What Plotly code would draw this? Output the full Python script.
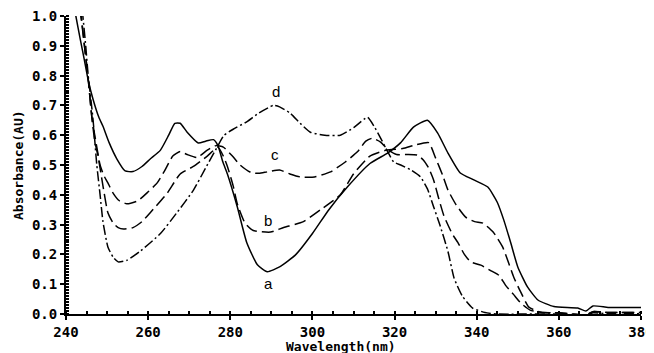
import plotly.graph_objects as go

# ---- data ----
wl_a = [241.5, 242.4, 243.5, 244.5, 245.4, 246.6, 248, 249, 250.5, 252.4, 254.4, 256.3, 258.5,
        260.5, 263, 265, 266.5, 267.8, 269.5, 272.2, 274, 275.9, 277, 278.2, 279.3, 281.7, 284,
        286.6, 289, 292, 296, 300, 304, 308.5, 314, 318.3, 321.5, 324.6, 328, 330.5, 333, 336,
        339.3, 342.7, 345, 346.6, 348.3, 350, 352.4, 354.9, 358.8, 364.6, 366.6, 368.3, 372, 376, 380]
abs_a = [1.08, 1.0, 0.92, 0.85, 0.785, 0.72, 0.66, 0.63, 0.575, 0.52, 0.48, 0.478, 0.495,
         0.52, 0.55, 0.6, 0.64, 0.64, 0.61, 0.574, 0.58, 0.585, 0.565, 0.51, 0.47, 0.36, 0.24,
         0.165, 0.142, 0.158, 0.2, 0.27, 0.35, 0.426, 0.505, 0.54, 0.575, 0.627, 0.65, 0.607, 0.54, 0.473,
         0.45, 0.426, 0.375, 0.315, 0.238, 0.158, 0.09, 0.047, 0.025, 0.02, 0.01, 0.027, 0.022, 0.022, 0.022]

wl_b = [242.5, 243.6, 244.5, 245.4, 246.3, 247, 247.8, 249, 250.2, 251.5, 252.7, 254, 256.3, 258.5,
        260.5, 264.6, 267.8, 271, 274.4, 277, 278.3, 279.3, 280.7, 281.7, 283.6, 285.6, 289.8, 293,
        297.8, 302, 306.8, 310, 314, 318, 322, 325, 328.3, 330, 331.7, 333, 335, 337.3, 339.5, 341.5,
        344, 346.3, 347.8, 349, 350.7, 352.7, 355.6, 360, 366.6, 368.3, 372, 380]
abs_b = [1.08, 1.0, 0.9, 0.79, 0.66, 0.58, 0.53, 0.43, 0.34, 0.305, 0.29, 0.285, 0.29, 0.31,
         0.34, 0.405, 0.47, 0.495, 0.53, 0.56, 0.53, 0.495, 0.43, 0.37, 0.305, 0.28, 0.275, 0.29,
         0.31, 0.35, 0.40, 0.47, 0.53, 0.55, 0.555, 0.567, 0.575, 0.523, 0.466, 0.416, 0.366, 0.325, 0.31, 0.305,
         0.275, 0.225, 0.17, 0.124, 0.074, 0.023, 0.006, 0.004, -0.003, 0.008, 0.005, 0.005]

wl_c = [242.8, 243.7, 244.5, 245.4, 246.3, 247.5, 248.3, 249.2, 250.2, 251.5, 253, 254.8, 257.5, 260,
        262.2, 264, 266, 267.8, 269.5, 271.9, 274.4, 276.5, 278.3, 280.5, 282.4, 285, 287, 289, 292,
        294.5, 297, 300.5, 304.4, 308, 311, 313, 314.6, 316.6, 318.5, 320.5, 323, 325.6, 327, 328.3,
        329.5, 330.7, 332, 334, 335.4, 337, 338.5, 341, 343.5, 345.4, 347, 349, 350.7, 353, 356, 360,
        366.6, 368.3, 372, 380]
abs_c = [1.08, 1.0, 0.9, 0.79, 0.66, 0.56, 0.5, 0.465, 0.44, 0.405, 0.38, 0.37, 0.38, 0.41,
         0.44, 0.48, 0.53, 0.545, 0.535, 0.525, 0.55, 0.565, 0.56, 0.53, 0.5, 0.475, 0.472, 0.477, 0.483,
         0.47, 0.46, 0.46, 0.477, 0.51, 0.545, 0.58, 0.59, 0.577, 0.55, 0.535, 0.535, 0.533, 0.517, 0.49,
         0.45, 0.39, 0.33, 0.27, 0.24, 0.2, 0.175, 0.164, 0.145, 0.13, 0.097, 0.065, 0.037, 0.013, 0.005, 0.004,
         -0.003, 0.008, 0.005, 0.005]

wl_d = [243.4, 244.1, 244.8, 245.4, 245.9, 246.6, 247.5, 248.3, 249, 250.2, 251.5, 252.7, 254.8, 258,
        263, 267, 271, 274, 276.8, 278.5, 280.7, 284, 287, 290.5, 292, 294.5, 297, 299.5, 303, 306.8,
        310, 313.4, 315, 316.6, 318.5, 319.8, 321.5, 324, 326.3, 328, 329.5, 331, 333, 334.5, 336.5,
        339, 342, 345, 360, 366.6, 368.3, 372, 380]
abs_d = [1.08, 1.0, 0.9, 0.8, 0.74, 0.65, 0.5, 0.4, 0.31, 0.225, 0.19, 0.175, 0.18, 0.21,
         0.27, 0.34, 0.415, 0.49, 0.56, 0.6, 0.62, 0.645, 0.675, 0.70, 0.695, 0.675, 0.64, 0.61, 0.60, 0.60,
         0.625, 0.66, 0.63, 0.59, 0.54, 0.51, 0.50, 0.483, 0.46, 0.42, 0.36, 0.30, 0.21, 0.12, 0.06,
         0.02, 0.005, 0.0, 0.0, -0.004, 0.004, 0.001, 0.001]

curve_labels = ["a", "b", "c", "d"]
label_wl = [289.3, 289.3, 291.0, 291.2]
label_abs = [0.104, 0.315, 0.534, 0.745]

x_ticks = [240, 260, 280, 300, 320, 340, 360, 380]
y_ticks = [0.0, 0.1, 0.2, 0.3, 0.4, 0.5, 0.6, 0.7, 0.8, 0.9, 1.0]

# ---- figure ----
fig = go.Figure()
styles = [
    (wl_a, abs_a, "solid"),
    (wl_b, abs_b, "12px,5px"),
    (wl_c, abs_c, "12px,5px"),
    (wl_d, abs_d, "10px,3px,2px,3px"),
]
for (xs, ys, dash), name in zip(styles, curve_labels):
    fig.add_trace(go.Scatter(x=xs, y=ys, mode="lines", name=name,
                             line=dict(color="black", width=1.5, dash=dash,
                                       shape="spline", smoothing=0.5),
                             showlegend=False, cliponaxis=True))

for t, xv, yv in zip(curve_labels, label_wl, label_abs):
    fig.add_annotation(x=xv, y=yv, text=t, showarrow=False,
                       font=dict(family="Liberation Sans", size=15, color="black"))

tickfont = dict(family="DejaVu Sans Mono", size=14, color="black", weight="bold")

common = dict(showgrid=False, zeroline=False, showline=True, linecolor="black", linewidth=2,
              ticks="outside", ticklen=4, tickwidth=1.5, tickcolor="black",
              tickfont=tickfont, automargin=False, ticklabeloverflow="allow")

fig.update_xaxes(range=[240, 380], tickvals=x_ticks, ticktext=[str(v) for v in x_ticks],
                 minor=dict(dtick=5, tick0=240, ticks="inside", ticklen=3, tickcolor="black", showgrid=False),
                 **common)
fig.update_yaxes(range=[0, 1.0], tickvals=y_ticks, ticktext=[f"{v:.1f}" for v in y_ticks],
                 minor=dict(dtick=0.01, tick0=0, ticks="inside", ticklen=3, tickcolor="black", showgrid=False),
                 **common)

titlefont = dict(family="DejaVu Sans Mono", size=13, color="black", weight="bold")
fig.add_annotation(xref="paper", yref="paper", x=0.479, y=-0.108, text="Wavelength(nm)",
                   showarrow=False, xanchor="center", yanchor="middle", font=titlefont)
fig.add_annotation(xref="paper", yref="paper", x=-0.0835, y=0.5, text="Absorbance(AU)",
                   showarrow=False, xanchor="center", yanchor="middle", textangle=-90, font=titlefont)

# the page body adds an 8px offset, so the figure is sized/margined to compensate
fig.update_layout(width=646, height=345, margin=dict(l=58, r=13, t=8, b=39),
                  plot_bgcolor="white", paper_bgcolor="white")

fig.write_html("out.html")
